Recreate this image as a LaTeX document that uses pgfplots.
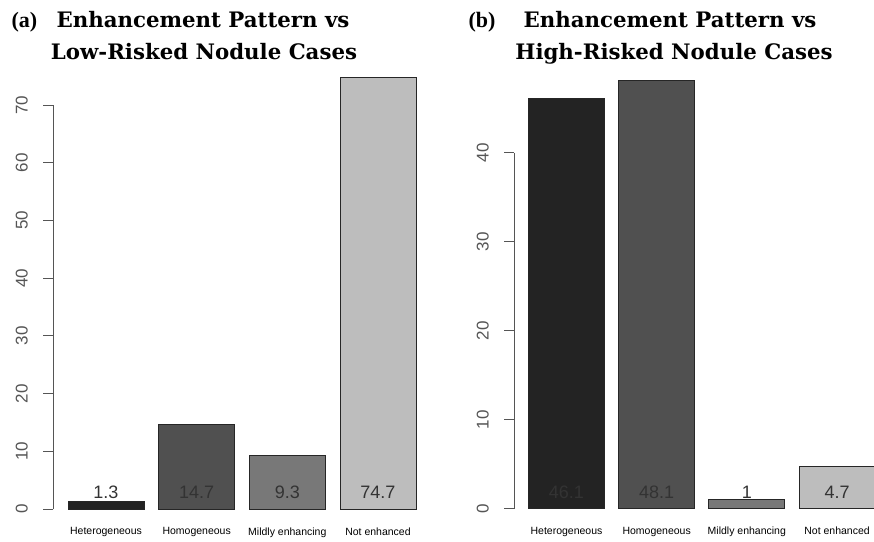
\documentclass[border=0pt]{standalone}
\usepackage{pgfplots}
\pgfplotsset{compat=1.18}
\usepackage{fontspec}
\setmainfont{Liberation Sans}
\newfontfamily\titlefont{DejaVu Serif}
\newfontfamily\labfont{Liberation Serif}
\definecolor{c1}{HTML}{232323}
\definecolor{c2}{HTML}{505050}
\definecolor{c3}{HTML}{787878}
\definecolor{c4}{HTML}{BDBDBD}
\definecolor{axc}{HTML}{555555}
\tikzset{vlab/.style={anchor=base, font=\fontsize{18}{20}\selectfont, text=black!80}}
\pgfplotsset{
  rbar/.style={
    scale only axis,
    axis x line*=bottom,
    axis y line*=left,
    x axis line style={draw=none},
    y axis line style={draw=axc, line width=1pt},
    xtick={1,2,3,4},
    xticklabels={Heterogeneous,Homogeneous,Mildly enhancing,Not enhanced},
    xtick style={draw=none},
    xticklabel style={font=\fontsize{10.5}{12}\selectfont, text=black, yshift=-5pt},
    ytick style={draw=axc, line width=1pt},
    tick align=outside,
    major tick length=10pt,
    yticklabel style={rotate=90, anchor=south, inner sep=0pt, font=\fontsize{17}{20}\selectfont, text=axc},
    yticklabel shift=15pt,
    /pgf/number format/assume math mode=true,
    ymin=0, xmax=4.5,
    clip=false,
    ybar, bar width=76pt, bar shift=0pt,
    every axis plot/.append style={draw=black!85, line width=0.8pt},
  },
}
\begin{document}
\begin{tikzpicture}[x=1pt,y=1pt]
% ---------- (a) ----------
\begin{axis}[rbar,
  at={(53pt,32pt)}, anchor=south west,
  width=370.3pt, height=404pt,
  xmin=0.4155, ymax=70,
  ytick={0,10,20,30,40,50,60,70}]
\addplot[fill=c1] coordinates {(1,1.3)};
\addplot[fill=c2] coordinates {(2,14.7)};
\addplot[fill=c3] coordinates {(3,9.3)};
\addplot[fill=c4] coordinates {(4,74.7)};
\node[vlab] at (axis cs:1,0) [yshift=10.5pt] {1.3};
\node[vlab] at (axis cs:2,0) [yshift=10.5pt] {14.7};
\node[vlab] at (axis cs:3,0) [yshift=10.5pt] {9.3};
\node[vlab] at (axis cs:4,0) [yshift=10.5pt] {74.7};
\end{axis}
% ---------- (b) ----------
\begin{axis}[rbar,
  at={(514pt,32.5pt)}, anchor=south west,
  width=368.1pt, height=355.8pt,
  xmin=0.418, ymax=40,
  ytick={0,10,20,30,40}]
\addplot[fill=c1] coordinates {(1,46.1)};
\addplot[fill=c2] coordinates {(2,48.1)};
\addplot[fill=c3] coordinates {(3,1)};
\addplot[fill=c4] coordinates {(4,4.7)};
\node[vlab] at (axis cs:1,0) [yshift=10.5pt] {46.1};
\node[vlab] at (axis cs:2,0) [yshift=10.5pt] {48.1};
\node[vlab] at (axis cs:3,0) [yshift=10.5pt] {1};
\node[vlab] at (axis cs:4,0) [yshift=10.5pt] {4.7};
\end{axis}
% ---------- titles ----------
\node[anchor=base west, font=\labfont\bfseries\fontsize{22}{24}\selectfont] at (8,513) {(a)};
\node[anchor=base west, font=\labfont\bfseries\fontsize{22}{24}\selectfont] at (465,513) {(b)};
\node[anchor=base, font=\titlefont\bfseries\fontsize{21.3}{24}\selectfont] at (203,513) {Enhancement Pattern vs};
\node[anchor=base, font=\titlefont\bfseries\fontsize{21.3}{24}\selectfont] at (204,481) {Low-Risked Nodule Cases};
\node[anchor=base, font=\titlefont\bfseries\fontsize{21.3}{24}\selectfont] at (670,513) {Enhancement Pattern vs};
\node[anchor=base, font=\titlefont\bfseries\fontsize{21.3}{24}\selectfont] at (674,481) {High-Risked Nodule Cases};
\pgfresetboundingbox
\useasboundingbox (0,0) rectangle (874,541);
\end{tikzpicture}
\end{document}
